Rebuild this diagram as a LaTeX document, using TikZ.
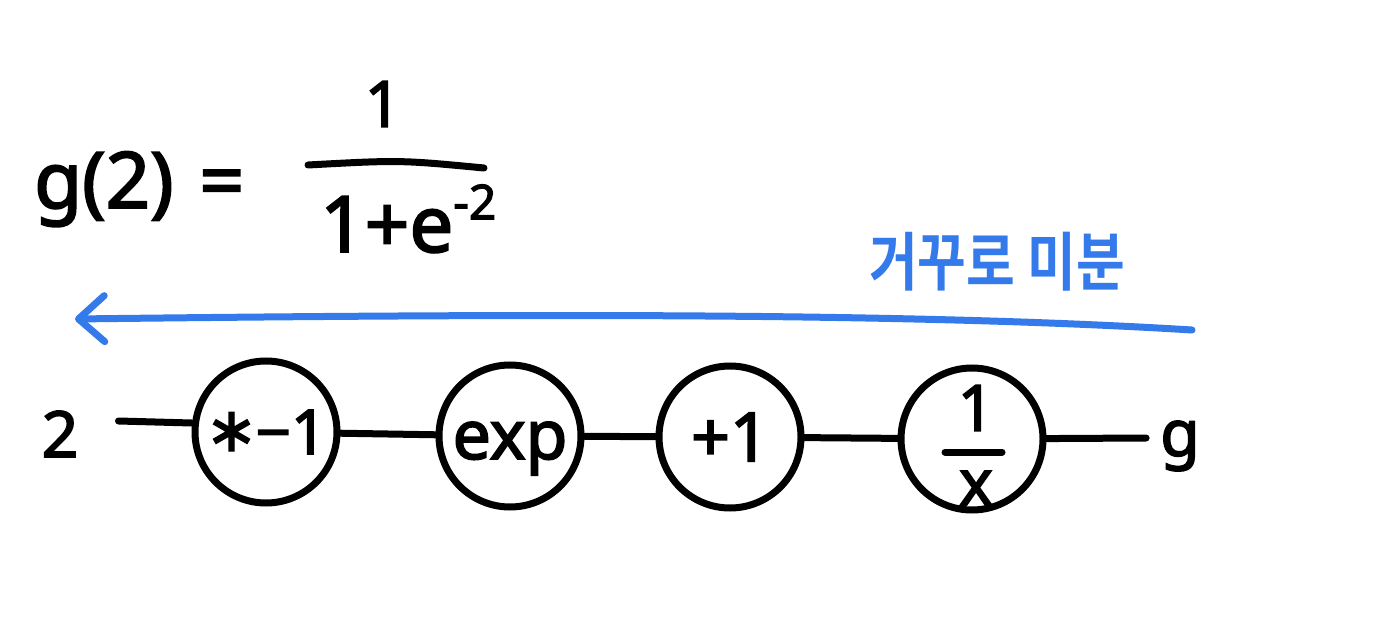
\documentclass[tikz,border=0pt]{standalone}
\usepackage{fontspec}
\setmainfont{Noto Sans}[FakeBold=2.5]
\newfontfamily\hand{Noto Sans}[FakeBold=2.5]
\newfontfamily\sym{DejaVu Sans}[FakeBold=2]
\newfontfamily\kr{Noto Sans CJK KR}[BoldFont={Noto Sans CJK KR Bold}]
\usetikzlibrary{arrows.meta,calc}
\definecolor{penblue}{RGB}{52,122,234}
\tikzset{
  ink/.style={line width=7pt, line cap=round, line join=round},
  op/.style={circle, draw, line width=7pt, minimum size=142pt, inner sep=0pt, font=\hand\fontsize{68}{72}\selectfont},
  lbl/.style={inner sep=2pt, font=\hand\fontsize{64}{70}\selectfont},
  big/.style={inner sep=2pt, font=\hand\fontsize{78}{84}\selectfont},
}
\begin{document}
\begin{tikzpicture}[x=1pt,y=-1pt]
\useasboundingbox (0,0) rectangle (1387,644);
% formula
\node[big, anchor=base west] (lhs) at (32,208) {g(2)\,\,=};
\node[lbl] (num) at (383,104) {1};
\node[big, anchor=base west] (den) at (318,252) {1+e\raisebox{0.42em}{\fontsize{48}{52}\selectfont -2}};
\coordinate (barl) at (308,165);
\coordinate (barr) at (484,168);
\draw[ink] (barl) .. controls (400,160) .. (barr);
% backward label
\node[text=penblue, inner sep=0pt] (back) at (997,262) {\kr\bfseries\fontsize{53}{60}\selectfont\scalebox{1}[1.2]{거꾸로 미분}};
\coordinate (arrS) at (1192,330);
\coordinate (arrE) at (75,319);
\draw[ink, penblue, {Straight Barb[length=26pt,width=46pt,line width=7pt,round]}-] (arrE) .. controls (500,314) and (900,312) .. (arrS);
% chain
\node[lbl] (two) at (60,434) {2};
\node[op, font=\hand\fontsize{62}{66}\selectfont] (c1) at (266,432) {{\sym\raisebox{0.05em}{∗}}\kern-2pt−1};
\node[op, text height=52pt, text depth=6pt] (c2) at (510,436) {exp};
\node[op] (c3) at (730,437) {+1};
\node[op] (c4) at (972,439) {};
\node[lbl] (c4num) at (976,408) {1};
\coordinate (c4bl) at (945,452);
\coordinate (c4br) at (1002,452);
\draw[ink] (c4bl) -- (c4br);
\node[lbl] (c4den) at (976,488) {x};
\node[lbl] (g) at (1180,446) {g};
\coordinate (s1) at ($(two.east)+(38,-13)$);
\draw[ink] (s1) -- ($(c1.west)+(0,-9)$);
\draw[ink] (c1) -- (c2);
\draw[ink] (c2) -- (c3);
\draw[ink] (c3) -- (c4);
\draw[ink] (c4) -- ($(g.west)+(-12,-8)$);
\end{tikzpicture}
\end{document}
